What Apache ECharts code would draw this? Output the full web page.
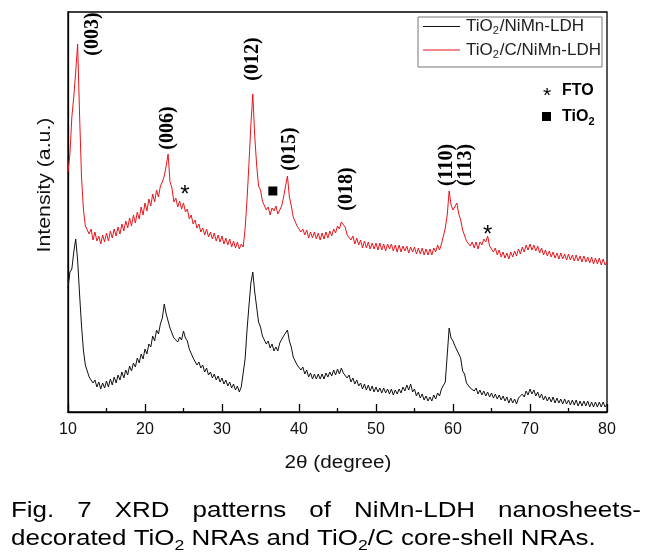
<!DOCTYPE html>
<html><head><meta charset="utf-8">
<script src="https://cdn.jsdelivr.net/npm/echarts@6/dist/echarts.min.js"></script>
<style>html,body{margin:0;padding:0;background:#fff}#c{width:658px;height:559px}</style>
</head><body><div id="c"></div>
<script>
// 2-theta sampling points (degrees)
const angles = [
10,10.25,10.5,10.75, 11,11.25,11.5,11.75, 12,12.25,12.5,12.75, 13,13.25,13.5,13.75,
14,14.25,14.5,14.75, 15,15.25,15.5,15.75, 16,16.25,16.5,16.75, 17,17.25,17.5,17.75,
18,18.25,18.5,18.75, 19,19.25,19.5,19.75, 20,20.25,20.5,20.75, 21,21.25,21.5,21.75,
22,22.25,22.5,22.75, 23,23.25,23.5,23.75, 24,24.25,24.5,24.75, 25,25.25,25.5,25.75,
26,26.25,26.5,26.75, 27,27.25,27.5,27.75, 28,28.25,28.5,28.75, 29,29.25,29.5,29.75,
30,30.25,30.5,30.75, 31,31.25,31.5,31.75, 32,32.25,32.5,32.75, 33,33.25,33.5,33.75,
34,34.25,34.5,34.75, 35,35.25,35.5,35.75, 36,36.25,36.5,36.75, 37,37.25,37.5,37.75,
38,38.25,38.5,38.75, 39,39.25,39.5,39.75, 40,40.25,40.5,40.75, 41,41.25,41.5,41.75,
42,42.25,42.5,42.75, 43,43.25,43.5,43.75, 44,44.25,44.5,44.75, 45,45.25,45.5,45.75,
46,46.25,46.5,46.75, 47,47.25,47.5,47.75, 48,48.25,48.5,48.75, 49,49.25,49.5,49.75,
50,50.25,50.5,50.75, 51,51.25,51.5,51.75, 52,52.25,52.5,52.75, 53,53.25,53.5,53.75,
54,54.25,54.5,54.75, 55,55.25,55.5,55.75, 56,56.25,56.5,56.75, 57,57.25,57.5,57.75,
58,58.25,58.5,58.75, 59,59.25,59.5,59.75, 60,60.25,60.5,60.75, 61,61.25,61.5,61.75,
62,62.25,62.5,62.75, 63,63.25,63.5,63.75, 64,64.25,64.5,64.75, 65,65.25,65.5,65.75,
66,66.25,66.5,66.75, 67,67.25,67.5,67.75, 68,68.25,68.5,68.75, 69,69.25,69.5,69.75,
70,70.25,70.5,70.75, 71,71.25,71.5,71.75, 72,72.25,72.5,72.75, 73,73.25,73.5,73.75,
74,74.25,74.5,74.75, 75,75.25,75.5,75.75, 76,76.25,76.5,76.75, 77,77.25,77.5,77.75,
78,78.25,78.5,78.75, 79,79.25,79.5,79.75, 80
];
// TiO2/NiMn-LDH (black), intensity a.u.
const tio2Ldh = [
124,140,143,160, 173,152,118,87, 62,47,45,35, 37,29,32,25,
30,23,29,24, 31,25,33,27, 35,29,37,32, 40,34,42,37,
46,41,49,45, 54,49,58,53, 63,58,68,65, 76,71,82,78,
88,94,108,98, 91,84,82,74, 76,70,75,72, 81,74,71,63,
62,54,55,47, 50,44,47,40, 44,37,40,34, 38,32,36,30,
34,28,32,26, 30,24,28,22, 26,20,25,26, 53,82,106,129,
140,120,105,90, 85,76,77,68, 71,64,68,61, 65,61,69,69,
76,77,82,71, 65,55,55,47, 49,42,45,38, 42,35,39,33,
38,33,38,33, 38,33,39,35, 40,36,42,37, 43,38,44,39,
41,34,37,30, 34,28,32,26, 29,23,28,22, 27,21,26,20,
25,20,24,19, 24,19,23,18, 23,17,22,18, 23,19,25,21,
27,22,28,20, 23,16,20,14, 18,12,16,11, 15,11,17,13,
19,16,23,23, 30,57,84,74, 71,66,65,58, 54,41,38,29,
30,24,26,21, 24,18,22,17, 21,16,20,15, 19,14,18,13,
17,12,16,11, 15,9,14,9, 13,8,14,12, 18,15,21,17,
23,18,22,16, 20,14,18,12, 16,11,15,10, 15,9,14,9,
13,8,13,8, 12,7,12,7, 12,6,11,6, 11,6,11,5,
10,5,10,5, 10,5,10,5, 8
];
// TiO2/C/NiMn-LDH (red), intensity a.u.
const tio2cLdh = [
240,258,295,315, 340,368,298,236, 203,186,188,178, 183,172,180,171,
176,168,177,170, 179,171,181,174, 183,176,185,178, 188,181,191,184,
194,186,197,189, 200,193,205,197, 209,201,213,206, 218,210,222,215,
226,230,236,246, 258,230,224,210, 214,205,211,203, 209,200,203,193,
197,188,192,184, 188,180,184,177, 183,175,180,173, 179,171,177,170,
176,168,174,167, 173,165,171,164, 170,163,168,165, 183,212,248,287,
318,276,247,226, 222,211,210,202, 205,197,204,201, 206,198,202,206,
215,226,236,215, 206,195,195,186, 188,180,183,177, 182,174,180,174,
180,173,179,172, 179,173,180,174, 181,176,183,179, 186,183,190,192,
185,177,179,172, 176,168,174,167, 172,164,171,164, 170,163,169,163,
169,162,169,162, 168,161,168,163, 168,161,167,160, 167,160,166,161,
166,159,165,160, 165,158,164,158, 164,157,163,157, 163,157,164,160,
167,162,168,170, 184,197,221,207, 202,201,209,198, 192,182,180,171,
173,166,170,164, 170,163,170,167, 173,170,176,166, 168,160,164,157,
162,155,160,154, 159,153,160,155, 161,156,163,158, 165,160,167,162,
168,162,167,161, 166,159,164,157, 162,156,161,155, 160,154,159,153,
159,153,158,152, 158,152,157,151, 157,151,156,150, 156,150,155,149,
155,148,154,148, 154,147,153,147, 150
];
const seriesNames = ['TiO2/NiMn-LDH', 'TiO2/C/NiMn-LDH'];
// peak annotations (angle, intensity level of label centre)
const peakLabels = ['(003)', '(006)', '(012)', '(015)', '(018)', '(110)', '(113)'];
const peakAngles = [13.2, 22.9, 34.0, 38.8, 46.2, 59.2, 61.7];
const peakLevels = [378, 284, 353, 263, 223, 247, 247];
const ftoAngles = [25.2, 64.5];
const ftoLevels = [223, 183];
const tio2Angles = [36.6];
const tio2Levels = [221];

const SANS = '"Liberation Sans", Arial, sans-serif';
const SERIF = '"Liberation Serif", "Times New Roman", serif';
const STRETCH = 1.18;

const chart = echarts.init(document.getElementById('c'), null, {renderer: 'canvas'});

function subRich(name) {
  const i = name.indexOf('2');
  return '{n|' + name.slice(0, i) + '}{s|2}{n|' + name.slice(i + 1) + '}';
}

chart.setOption({
  animation: false,
  backgroundColor: '#fff',
  grid: {left: 68, right: 51, top: 12, bottom: 147, show: true, borderColor: '#000', borderWidth: 1.3, backgroundColor: 'transparent'},
  legend: {
    left: 423, top: 18, orient: 'vertical', itemGap: 5, itemWidth: 37, itemHeight: 1,
    icon: 'rect', selectedMode: false, padding: 0,
    data: seriesNames,
    formatter: subRich,
    textStyle: {
      color: '#222',
      rich: {
        n: {fontFamily: SANS, fontSize: 17, lineHeight: 20, color: '#222', padding: [0, 0, 0, 1]},
        s: {fontFamily: SANS, fontSize: 11, lineHeight: 11, verticalAlign: 'bottom', color: '#222'}
      }
    }
  },
  xAxis: {
    type: 'value', min: 10, max: 80, interval: 10,
    axisLine: {show: true, onZero: false, lineStyle: {color: '#000', width: 1.3}},
    axisTick: {show: true, inside: true, length: 8, lineStyle: {color: '#000', width: 1.3}},
    minorTick: {show: true, splitNumber: 2, length: 4, lineStyle: {color: '#000', width: 1.3}},
    axisLabel: {show: true, margin: 10, fontFamily: SANS, fontSize: 16, color: '#111'},
    splitLine: {show: false}
  },
  yAxis: {
    type: 'value', min: 0, max: 400,
    axisLine: {show: true, lineStyle: {color: '#000', width: 1.3}},
    axisTick: {show: false}, axisLabel: {show: false}, splitLine: {show: false}
  },
  series: [
    {name: seriesNames[0], type: 'line', symbol: 'none', color: '#111',
     lineStyle: {width: 1, color: '#111'},
     data: angles.map((a, i) => [a, tio2Ldh[i]])},
    {name: seriesNames[1], type: 'line', symbol: 'none', color: '#e8151b',
     lineStyle: {width: 1, color: '#e8151b'},
     data: angles.map((a, i) => [a, tio2cLdh[i]])}
  ]
});

const toPx = (x, y) => chart.convertToPixel({gridIndex: 0}, [x, y]);
const g = [];
peakLabels.forEach((t, i) => {
  const p = toPx(peakAngles[i], peakLevels[i]);
  g.push({type: 'text', x: p[0], y: p[1], rotation: Math.PI / 2, z: 10,
    style: {text: t, fontFamily: SERIF, fontWeight: 'bold', fontSize: 20, fill: '#000', align: 'center', verticalAlign: 'middle'}});
});
ftoAngles.forEach((a, i) => {
  const p = toPx(a, ftoLevels[i]);
  g.push({type: 'text', x: p[0], y: p[1] + 6, z: 10,
    style: {text: '*', fontFamily: SANS, fontSize: 24, fill: '#000', align: 'center', verticalAlign: 'middle'}});
});
tio2Angles.forEach((a, i) => {
  const p = toPx(a, tio2Levels[i]);
  g.push({type: 'rect', x: p[0] - 4.5, y: p[1] - 4.5, z: 10, shape: {width: 9, height: 9}, style: {fill: '#000'}});
});
// legend frame
g.push({type: 'rect', x: 418, y: 17, z: 5, shape: {width: 184, height: 50}, style: {fill: 'none', stroke: '#777', lineWidth: 1}});
// phase key
g.push({type: 'text', x: 547, y: 96, z: 10, style: {text: '*', fontFamily: SANS, fontSize: 21, fill: '#000', align: 'center', verticalAlign: 'middle'}});
g.push({type: 'text', x: 562, y: 91, z: 10, style: {text: 'FTO', fontFamily: SANS, fontWeight: 'bold', fontSize: 16, fill: '#000', align: 'left', verticalAlign: 'middle'}});
g.push({type: 'rect', x: 542, y: 112, z: 10, shape: {width: 9, height: 9}, style: {fill: '#000'}});
g.push({type: 'text', x: 562, y: 117, z: 10, style: {
  text: '{n|TiO}{s|2}', fontFamily: SANS, fontWeight: 'bold', fontSize: 16, fill: '#000', align: 'left', verticalAlign: 'middle',
  rich: {n: {fontFamily: SANS, fontWeight: 'bold', fontSize: 16, lineHeight: 20, fill: '#000'},
         s: {fontFamily: SANS, fontWeight: 'bold', fontSize: 11, lineHeight: 11, verticalAlign: 'bottom', fill: '#000'}}}});
// axis names
g.push({type: 'text', x: 45, y: 185, rotation: Math.PI / 2, scaleX: 1.12, style: {text: 'Intensity (a.u.)', fontFamily: SANS, fontSize: 19, fill: '#111', align: 'center', verticalAlign: 'middle'}});
g.push({type: 'text', x: 338, y: 463, scaleX: 1.15, style: {text: '2θ (degree)', fontFamily: SANS, fontSize: 18, fill: '#111', align: 'center', verticalAlign: 'middle'}});

// caption line 1 (justified)
const words = ['Fig.', '7', 'XRD', 'patterns', 'of', 'NiMn-LDH', 'nanosheets-'];
const cv = document.createElement('canvas').getContext('2d');
cv.font = '22px ' + SANS;
const widths = words.map(w => cv.measureText(w).width * STRETCH);
const L = 11, R = 641;
const gap = (R - L - widths.reduce((s, w) => s + w, 0)) / (words.length - 1);
let cx = L;
words.forEach((w, i) => {
  g.push({type: 'text', x: cx, y: 511, scaleX: STRETCH, style: {text: w, fontFamily: SANS, fontSize: 22, fill: '#000', align: 'left', verticalAlign: 'middle'}});
  cx += widths[i] + gap;
});
g.push({type: 'text', x: 11, y: 539, scaleX: STRETCH, style: {
  text: '{n|decorated TiO}{s|2}{n| NRAs and TiO}{s|2}{n|/C core-shell NRAs.}',
  fontFamily: SANS, fontSize: 22, fill: '#000', align: 'left', verticalAlign: 'middle',
  rich: {n: {fontFamily: SANS, fontSize: 22, lineHeight: 28, fill: '#000'},
         s: {fontFamily: SANS, fontSize: 15, lineHeight: 15, verticalAlign: 'bottom', fill: '#000'}}}});

chart.setOption({graphic: g});
</script>
</body></html>
